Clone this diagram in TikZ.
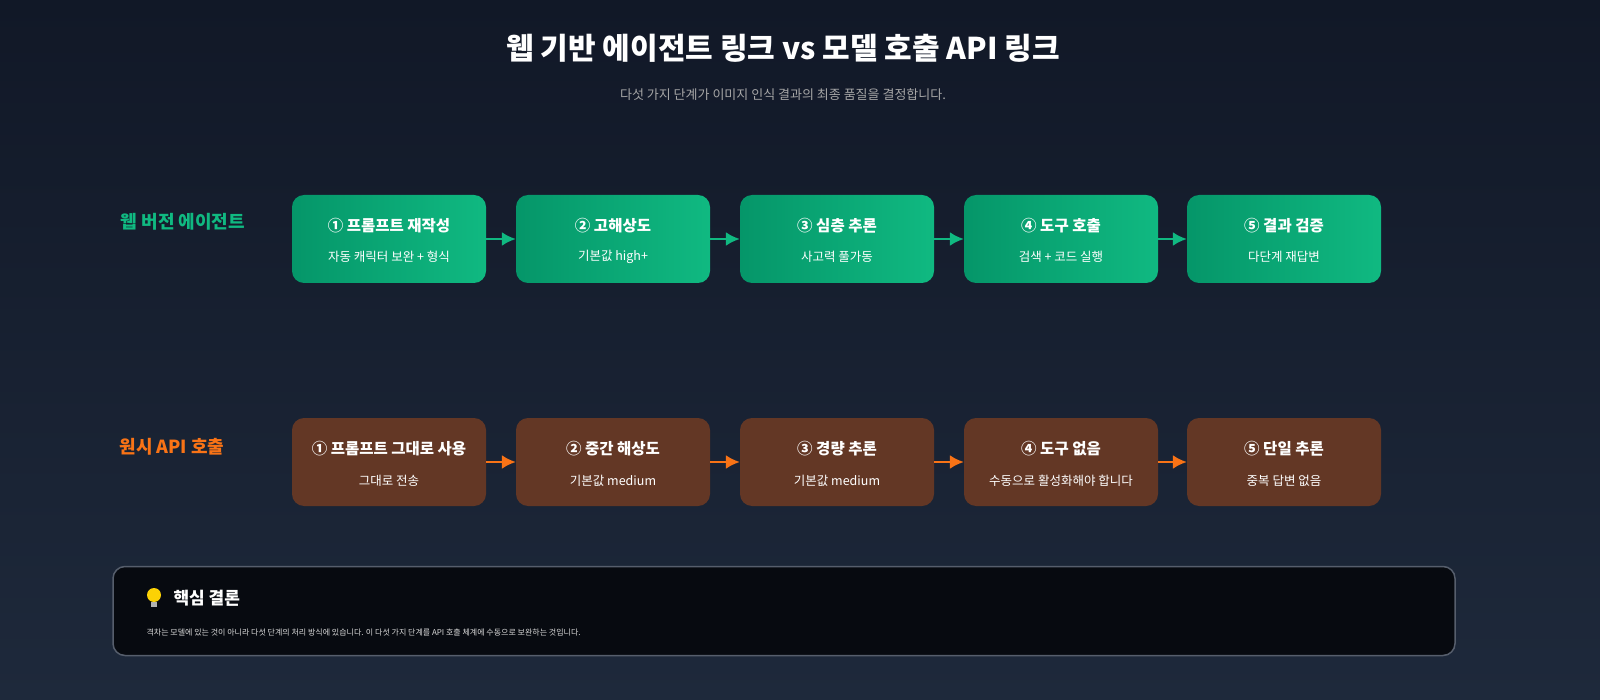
\documentclass[tikz,border=0pt]{standalone}
\usepackage{fontspec}
\setmainfont{Noto Sans CJK KR}
\begin{document}
\begin{tikzpicture}[x=1pt,y=-1pt,
  gbox/.style={rounded corners=12pt,minimum width=194pt,minimum height=88pt,left color=g1,right color=g2,draw=none,inner sep=0pt},
  bbox/.style={rounded corners=12pt,minimum width=194pt,minimum height=88pt,fill=br,draw=none,inner sep=0pt},
  garr/.style={draw=gc,line width=2.2pt,-{Latex[length=14pt,width=14pt]}},
  oarr/.style={draw=oc,line width=2.2pt,-{Latex[length=14pt,width=14pt]}},
  ttl/.style={font=\bfseries\fontsize{15.5}{18}\selectfont,text=white},
  sub/.style={font=\fontsize{12.5}{14}\selectfont,text=white}]
\usetikzlibrary{arrows.meta}
\definecolor{bg1}{HTML}{111827}\definecolor{bg2}{HTML}{1E293B}
\definecolor{g1}{HTML}{059669}\definecolor{g2}{HTML}{10B981}
\definecolor{br}{HTML}{633725}\definecolor{gc}{HTML}{10B981}\definecolor{oc}{HTML}{F97316}
\useasboundingbox (0,0) rectangle (1600,700);
\shade[top color=bg1,bottom color=bg2,shading angle=0] (0,0) rectangle (1600,700);
\node[font=\bfseries\fontsize{30}{34}\selectfont,text=white] (title) at (783,48) {웹 기반 에이전트 링크 vs 모델 호출 API 링크};
\node[font=\fontsize{13}{15}\selectfont,text=gray!70] (subt) at (783,95) {다섯 가지 단계가 이미지 인식 결과의 최종 품질을 결정합니다.};
\node[font=\bfseries\fontsize{18}{20}\selectfont,text=gc] (lab1) at (183,222) {웹 버전 에이전트};
\node[font=\bfseries\fontsize{18}{20}\selectfont,text=oc] (lab2) at (172,447) {원시 API 호출};
\foreach \i/\x/\t/\s in {1/389/① 프롬프트 재작성/자동 캐릭터 보완 + 형식,2/613/② 고해상도/기본값 high+,3/837/③ 심층 추론/사고력 풀가동,4/1061/④ 도구 호출/검색 + 코드 실행,5/1284/⑤ 결과 검증/다단계 재답변}{
  \node[gbox] (a\i) at (\x,239) {};
  \node[ttl] (at\i) at (\x,226) {\t};
  \node[sub] (as\i) at (\x,257) {\s};
}
\foreach \i/\x/\t/\s in {1/389/① 프롬프트 그대로 사용/그대로 전송,2/613/② 중간 해상도/기본값 medium,3/837/③ 경량 추론/기본값 medium,4/1061/④ 도구 없음/수동으로 활성화해야 합니다,5/1284/⑤ 단일 추론/중복 답변 없음}{
  \node[bbox] (b\i) at (\x,462) {};
  \node[ttl] (bt\i) at (\x,449) {\t};
  \node[sub] (bs\i) at (\x,481) {\s};
}
\foreach \i/\j in {1/2,2/3,3/4,4/5}{
  \draw[garr] (a\i.east) -- (a\j.west);
  \draw[oarr] (b\i.east) -- (b\j.west);
}
\node[rounded corners=12pt,minimum width=1342pt,minimum height=89pt,fill=black!60!bg1,draw=white!25!bg2,line width=1.5pt] (panel) at (784,611) {};
\fill[yellow!70!orange] (154,595) circle (7pt);
\fill[gray!60] (151,602) rectangle (157,607);
\node[anchor=west,font=\bfseries\fontsize{17}{20}\selectfont,text=white] (ph) at (170,598) {핵심 결론};
\node[anchor=west,font=\fontsize{8}{10}\selectfont,text=white!85!black] (pt) at (143,632) {격차는 모델에 있는 것이 아니라 다섯 단계의 처리 방식에 있습니다. 이 다섯 가지 단계를 API 호출 체계에 수동으로 보완하는 것입니다.};
\end{tikzpicture}
\end{document}
